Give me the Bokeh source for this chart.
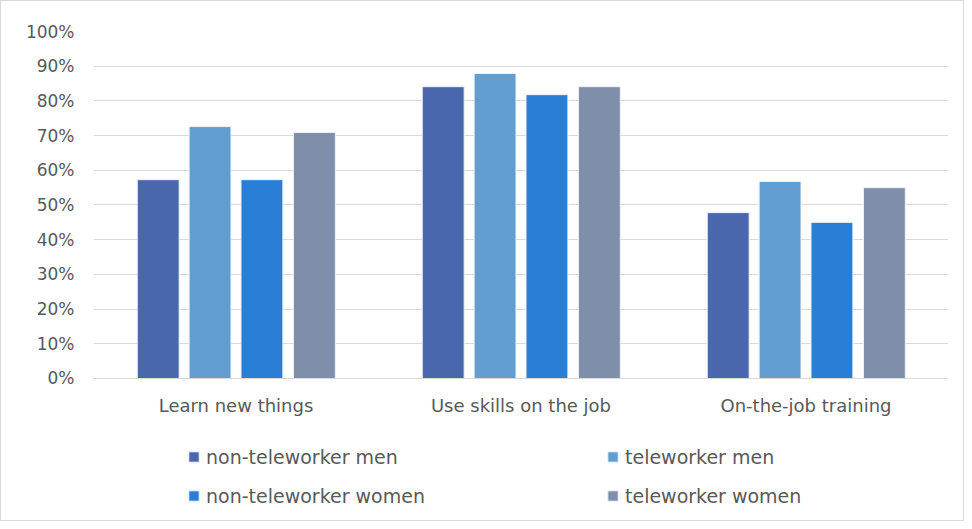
from bokeh.plotting import figure
from bokeh.models import (ColumnDataSource, FactorRange, Range1d, Legend, LegendItem,
                          FixedTicker, CustomJSTickFormatter)
from bokeh.transform import dodge
from bokeh.embed import file_html
from bokeh.resources import INLINE

categories = ["Learn new things", "Use skills on the job", "On-the-job training"]
non_tele_men = [57.3, 84.1, 47.8]
tele_men = [72.6, 87.9, 56.8]
non_tele_women = [57.3, 81.8, 45.0]
tele_women = [70.9, 84.1, 55.0]
series_names = ["non-teleworker men", "teleworker men", "non-teleworker women", "teleworker women"]
colors = ["#4A66AC", "#629DD1", "#297FD5", "#7F8FA9"]
y_ticks = [0, 10, 20, 30, 40, 50, 60, 70, 80, 90, 100]

src = ColumnDataSource(dict(cat=categories, s0=non_tele_men, s1=tele_men,
                            s2=non_tele_women, s3=tele_women))

FONT = "DejaVu Sans"
TXT = "#595959"

# frame extends below the value axis so that the legend can sit inside it
p = figure(x_range=FactorRange(*categories, range_padding=0), y_range=Range1d(-41.5, 100),
           width=964, height=521, output_backend="svg", toolbar_location=None,
           min_border_left=92, min_border_right=17, min_border_top=30, min_border_bottom=0)
p.styles = {"border": "1px solid #d9d9d9"}
p.outline_line_color = None
p.background_fill_color = "white"

offsets = [-0.273, -0.091, 0.091, 0.275]
renderers = []
for i, off in enumerate(offsets):
    r = p.vbar(x=dodge("cat", off, range=p.x_range), top=f"s{i}", width=0.147, bottom=0,
               source=src, fill_color=colors[i], line_color="#eef3fa", line_width=1)
    renderers.append(r)

p.yaxis.ticker = FixedTicker(ticks=y_ticks)
p.yaxis.formatter = CustomJSTickFormatter(code="return tick + '%';")
p.yaxis.axis_line_color = None
p.yaxis.major_tick_line_color = None
p.yaxis.minor_tick_line_color = None
p.yaxis.major_label_text_font = FONT
p.yaxis.major_label_text_font_size = "17px"
p.yaxis.major_label_text_color = TXT
p.yaxis.major_label_standoff = 13

p.xaxis.fixed_location = 0
p.xaxis.axis_line_color = "#d9d9d9"
p.xaxis.major_tick_line_color = None
p.xaxis.minor_tick_line_color = None
p.xaxis.major_label_text_font = FONT
p.xaxis.major_label_text_font_size = "18px"
p.xaxis.major_label_text_color = TXT
p.xaxis.major_label_standoff = 11

p.xgrid.grid_line_color = None
p.ygrid.grid_line_color = "#d9d9d9"
p.ygrid.grid_line_width = 1

order = [0, 2, 1, 3]
legend = Legend(items=[LegendItem(label=series_names[j], renderers=[renderers[j]]) for j in order],
                location=(94, 7), orientation="vertical", ncols=2,
                glyph_width=13, glyph_height=13, label_standoff=6,
                label_width=400, label_height=39, spacing=0, padding=0, margin=0,
                border_line_color=None, background_fill_alpha=0,
                label_text_font=FONT, label_text_font_size="19px", label_text_color=TXT)
p.add_layout(legend, "center")

open("out.html", "w").write(file_html(p, INLINE))
